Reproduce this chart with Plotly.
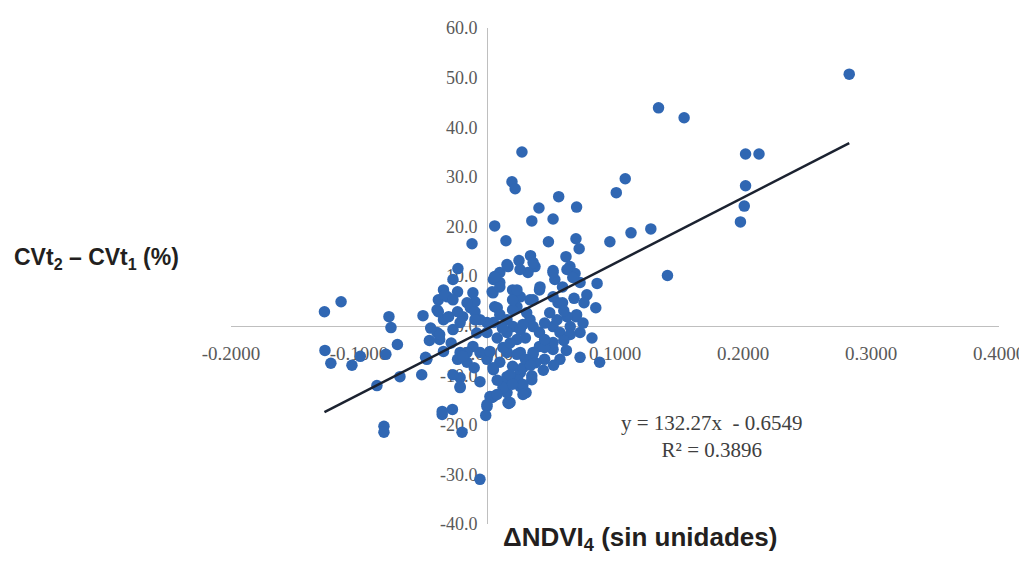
import plotly.graph_objects as go

# ΔNDVI4 (x) and CVt2 - CVt1 (y) values
ndvi = [
    0.283, 0.134, 0.154, 0.202, 0.2125, 0.202, 0.201, 0.198, 0.141, 0.108,
    0.101, 0.128, 0.1125, 0.096, 0.0273, 0.0195, 0.022, 0.056, 0.0406, 0.070,
    0.035, 0.0516, 0.006, 0.0148, -0.0117, 0.048, 0.0695, 0.072, 0.025, 0.034,
    0.0156, 0.0375, 0.032, 0.006, -0.0227, -0.0266, 0.0617, 0.0516, 0.0648, 0.0688,
    0.0727, 0.086, 0.078, 0.0758, 0.085, 0.070, 0.0047, 0.022, 0.0414, 0.053,
    -0.011, -0.031, 0.006, 0.0336, 0.0555, 0.0234,
    -0.127, -0.114, -0.0766, -0.075, -0.1266, -0.122, -0.1055, -0.099, -0.079, -0.070,
    -0.086, -0.068, -0.051, -0.047, -0.0805, -0.0805,
    0.0695, 0.0727, 0.088, 0.0727, 0.045, 0.035, 0.0305, 0.0164, 0.005, 0.0,
    -0.0055, -0.021, -0.021, -0.027, -0.035, -0.038, -0.039, -0.034, -0.039, -0.037,
    -0.0266, -0.034, -0.023, -0.013, -0.019, -0.0094, 0.008, 0.010, 0.005, 0.0156,
    0.0203, 0.026, 0.0336, 0.036, 0.041, 0.0516, 0.057, 0.049, 0.041, 0.036,
    0.026, 0.0156, 0.010, 0.020, 0.026, 0.0156, 0.005, 0.0, -0.0055, -0.011,
    -0.0156, -0.021, -0.023, -0.0156, 0.010, 0.005, 0.020, 0.026, 0.036, 0.041,
    0.0516, 0.059, 0.059, 0.0625, 0.067, 0.0516, 0.036, 0.010, 0.020, 0.031,
    0.049, 0.0547, 0.0625, 0.065, 0.0516, 0.057, 0.0234, 0.0156, 0.0, 0.0,
    -0.0055, 0.026, 0.0156, -0.0195, -0.0055, -0.001, 0.004, 0.017, -0.021, 0.014,
    0.024, 0.035,
    0.0258, 0.0164, 0.0063, 0.004, 0.010, -0.033, -0.0266, -0.0156, -0.038, -0.030,
    -0.023, -0.0094, -0.0094, -0.021, 0.020, 0.0234,
    -0.037, -0.048, -0.034, -0.0266, -0.019, 0.0023, 0.0125, 0.0234, 0.0047, 0.0180,
    0.0281, 0.0125, 0.0281, 0.0023, 0.0078, 0.0180, 0.0, -0.035,
    0.065, 0.0516, 0.045, 0.036, 0.028,
    0.030, 0.045, 0.038, 0.044, 0.052, 0.060, 0.062, 0.018, 0.008, 0.030,
    -0.008, -0.010, 0.008, 0.020, 0.034, 0.060, 0.045, 0.028, 0.012, -0.028,
    -0.045, -0.050, -0.044, 0.068, 0.075, 0.082,
]
cvt = [
    50.7, 43.9, 41.9, 34.6, 34.6, 28.2, 24.1, 20.9, 10.1, 29.6,
    26.8, 19.5, 18.7, 16.9, 35.0, 29.0, 27.6, 26.0, 23.7, 23.9,
    21.1, 21.5, 20.1, 17.1, 16.5, 16.9, 17.5, 15.5, 13.1, 14.1,
    12.3, 11.9, 10.7, 9.9, 11.5, 9.3, 13.9, 11.1, 11.9, 10.5,
    8.7, 8.5, 6.2, 4.6, 3.6, 2.2, 6.6, 6.8, 7.8, 9.3,
    6.6, 5.8, 3.8, 5.2, 4.6, 3.8,
    2.8, 4.8, 1.8, -0.4, -5.0, -7.6, -8.0, -6.2, -5.8, -3.8,
    -12.1, -10.3, -9.9, -6.8, -20.3, -21.5,
    1.8, -1.4, -7.4, -6.4, -6.8, -10.1, -13.5, -15.5, -14.3, -16.3,
    -11.3, -10.5, -12.3, -16.9, -17.9, 5.2, 3.2, 1.2, -1.4, -2.8,
    -0.8, 7.2, 6.8, 3.6, 1.8, 4.8, 3.6, 2.2, 0.6, 1.2,
    -0.2, -0.8, 1.2, -0.2, -1.4, -0.2, -1.4, -4.2, -4.2, -5.4,
    -5.4, -5.4, -7.4, -8.2, -9.5, -10.3, -8.9, -6.8, -5.4, -4.2,
    -5.4, -5.4, -6.8, -7.4, 8.7, 9.3, 7.2, 5.8, 5.2, 7.2,
    5.8, 4.6, 7.8, 11.3, 9.7, 10.7, 12.7, 10.7, 3.2, 2.6,
    2.6, 1.2, 1.8, -0.2, -4.8, -6.8, -2.8, -1.4, -1.4, 0.6,
    1.2, -12.3, -13.5, -21.5, -31.0, -18.1, -14.5, -15.7, -12.5, -11.3,
    -10.9, -10.9,
    11.3, 11.9, 9.7, 6.8, 7.8, 6.2, 5.2, 4.6, 2.8, 1.8,
    2.8, 2.8, 1.2, 0.6, 5.2, 7.2,
    -1.8, -6.4, -5.2, -9.9, -6.2, -5.2, -4.4, -5.8, -8.5, -9.9,
    -11.9, -12.5, -13.9, -14.3, -13.9, -15.5, -15.9, -17.3,
    -1.8, -3.4, -4.4, -5.8, -8.5,
    -2.5, -2.8, -7.5, -9.0, -8.0, -3.0, -5.0, -3.5, -2.5, -6.8,
    -1.5, -8.5, -11.0, -11.8, -8.0, 3.0, 0.5, 0.2, -0.5, -3.5,
    -3.0, 2.0, -0.5, 5.5, 0.5, -2.5,
]

# Trend line coefficients (from the chart's equation)
slope = 132.27
intercept = -0.6549
r2 = 0.3896

x_tickvals = [-0.2, -0.1, 0.0, 0.1, 0.2, 0.3, 0.4]
x_ticktext = ["-0.2000", "-0.1000", "0.0000", "0.1000", "0.2000", "0.3000", "0.4000"]
y_tickvals = [-40, -30, -20, -10, 0, 10, 20, 30, 40, 50, 60]
y_ticktext = ["-40.0", "-30.0", "-20.0", "-10.0", "0.0", "10.0", "20.0", "30.0", "40.0", "50.0", "60.0"]

x_range = [-0.2, 0.4]
y_range = [-40, 60]

xmin, xmax = min(ndvi), max(ndvi)
trend_x = [xmin, xmax]
trend_y = [slope * v + intercept for v in trend_x]

fig = go.Figure()
fig.add_trace(go.Scatter(
    x=ndvi, y=cvt, mode="markers",
    marker=dict(color="#3067b3", size=11.5, line=dict(width=0)),
    showlegend=False, hoverinfo="skip",
))
fig.add_trace(go.Scatter(
    x=trend_x, y=trend_y, mode="lines",
    line=dict(color="#1b2230", width=2.5),
    showlegend=False, hoverinfo="skip",
))

x_tick_font = dict(family="Liberation Serif", size=19, color="#595959")
y_tick_font = dict(family="Liberation Serif", size=18, color="#595959")
title_font = dict(family="Liberation Sans", size=23, color="#231f20")

fig.update_layout(
    width=1019, height=553,
    paper_bgcolor="white", plot_bgcolor="white",
    margin=dict(l=223, r=28, t=20, b=37, autoexpand=False),
    xaxis=dict(
        range=x_range, domain=[0, 1], anchor="free",
        position=(0 - y_range[0]) / (y_range[1] - y_range[0]),
        showline=True, linecolor="#bfbfbf", linewidth=1,
        showgrid=False, zeroline=False, ticks="", automargin=False,
        tickvals=x_tickvals, ticktext=x_ticktext,
        tickfont=x_tick_font, ticklabelstandoff=11, layer="below traces",
    ),
    yaxis=dict(
        range=y_range, domain=[0, 1], anchor="free",
        position=(0 - x_range[0]) / (x_range[1] - x_range[0]),
        showline=True, linecolor="#bfbfbf", linewidth=1,
        showgrid=False, zeroline=False, ticks="", automargin=False,
        tickvals=y_tickvals, ticktext=y_ticktext,
        tickfont=y_tick_font, ticklabelstandoff=6, layer="below traces",
    ),
    annotations=[
        dict(text="<b>CVt<sub>2</sub> – CVt<sub>1</sub> (%)</b>", xref="paper", yref="paper",
             x=-0.175, y=0.536, showarrow=False, xanchor="center", yanchor="middle",
             font=title_font),
        dict(text="<b>ΔNDVI<sub>4</sub> (sin unidades)</b>", xref="paper", yref="paper",
             x=0.533, y=-0.03, showarrow=False, xanchor="center", yanchor="middle",
             font=dict(family="Liberation Sans", size=26, color="#231f20")),
        dict(text=f"y = {slope}x  - {abs(intercept)}<br>R² = {r2}", xref="x", yref="y",
             x=0.176, y=-22.3, showarrow=False, xanchor="center", yanchor="middle",
             font=dict(family="Liberation Serif", size=21, color="#404040")),
    ],
)

fig.write_html("out.html")
